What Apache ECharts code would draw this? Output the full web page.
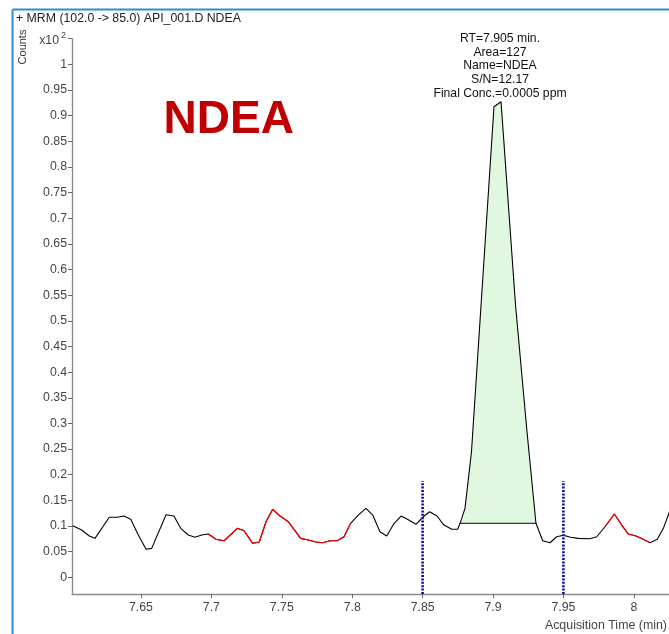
<!DOCTYPE html>
<html>
<head>
<meta charset="utf-8">
<script src="https://cdn.jsdelivr.net/npm/echarts@6/dist/echarts.min.js"></script>
<style>
html,body{margin:0;padding:0;background:#fff;}
#chart{width:669px;height:634px;}
</style>
</head>
<body>
<div id="chart"></div>
<script>
// Acquisition time (min) and counts (x10^2)
var times = [7.6015,7.6079,7.6133,7.6173,7.6275,7.6332,7.6379,7.6427,7.6481,7.6536,
  7.6576,7.6678,7.6734,7.6782,7.6836,7.6884,7.6931,7.6978,7.7033,7.7090,
  7.7184,7.7232,7.7293,7.7340,7.7388,7.7435,7.7487,7.7546,7.7587,7.7634,
  7.7688,7.7743,7.7791,7.7842,7.7894,7.7942,7.7989,7.8043,7.8098,7.8146,
  7.8197,7.8245,7.8297,7.8347,7.8402,7.8453,7.8505,7.8550,7.8602,7.8652,
  7.8707,7.8749,7.8766,7.8801,7.8847,7.9007,7.9057,7.9160,7.9239,7.9305,
  7.9353,7.9405,7.9452,7.9499,7.9552,7.9606,7.9689,7.9737,7.9795,7.9862,
  7.9914,7.9961,8.0016,8.0067,8.0115,8.0167,8.0210,8.0245,8.0293];
var counts = [0.1006,0.0922,0.0805,0.0760,0.1170,0.1170,0.1195,0.1131,0.0825,0.0546,
  0.0565,0.1220,0.1195,0.0955,0.0825,0.0780,0.0825,0.0844,0.0741,0.0713,
  0.0955,0.0908,0.0663,0.0688,0.1084,0.1326,0.1195,0.1084,0.0936,0.0760,
  0.0727,0.0688,0.0674,0.0713,0.0713,0.0791,0.1053,0.1214,0.1345,0.1214,
  0.0889,0.0805,0.1049,0.1195,0.1117,0.1033,0.1181,0.1279,0.1195,0.1019,
  0.0936,0.0936,0.1053,0.1345,0.2443,0.9173,0.9271,0.5308,0.2910,0.1053,
  0.0713,0.0674,0.0791,0.0819,0.0780,0.0760,0.0752,0.0791,0.0986,0.1234,
  0.1019,0.0844,0.0805,0.0741,0.0674,0.0741,0.0955,0.1214,0.1604];
// noise regions (drawn red)
var redRanges = [[7.6978, 7.7989], [7.9795, 8.0115]];
// integrated peak
var peakStart = 7.8766, peakEnd = 7.9305, peakBaseline = 0.1053;
// integration markers
var markerTimes = [7.85, 7.95];
var markerTop = 0.188;
// ticks
var xTicks = [7.65, 7.7, 7.75, 7.8, 7.85, 7.9, 7.95, 8];
var yTicks = [0,0.05,0.1,0.15,0.2,0.25,0.3,0.35,0.4,0.45,0.5,0.55,0.6,0.65,0.7,0.75,0.8,0.85,0.9,0.95,1,1.05];
var titleText = '+ MRM (102.0 -> 85.0) API_001.D NDEA';
var compoundName = 'NDEA';
var annotationLines = ['RT=7.905 min.', 'Area=127', 'Name=NDEA', 'S/N=12.17', 'Final Conc.=0.0005 ppm'];
var xAxisTitle = 'Acquisition Time (min)';
var yAxisTitle = 'Counts';

var FONT = 'Liberation Sans, Arial, sans-serif';
var YMIN = -0.0325, YMAX = 1.05, XMIN = 7.601, XMAX = 8.025;

var trace = times.map(function(t, i){ return [t, counts[i]]; });
var redSeries = redRanges.map(function(r){
  return {
    type: 'line', data: trace.filter(function(p){ return p[0] >= r[0] - 1e-6 && p[0] <= r[1] + 1e-6; }),
    showSymbol: false, symbol: 'none', lineStyle: {color: '#ff0000', width: 1.2}, z: 4, animation: false, silent: true
  };
});
var peakPts = trace.filter(function(p){ return p[0] >= peakStart - 1e-6 && p[0] <= peakEnd + 1e-6; });

var markerSeries = markerTimes.map(function(t){
  return {
    type: 'line', data: [[t, YMIN], [t, markerTop]], showSymbol: false, symbol: 'none',
    lineStyle: {color: '#0a0a90', width: 2.6, type: [2, 1.4]}, z: 5, animation: false, silent: true
  };
});

var graphics = [
  {type: 'line', shape: {x1: 12.5, y1: 9.5, x2: 669, y2: 9.5}, style: {stroke: '#2a8bd6', lineWidth: 2}},
  {type: 'line', shape: {x1: 12.5, y1: 9.5, x2: 12.5, y2: 634}, style: {stroke: '#2a8bd6', lineWidth: 2}},
  {type: 'text', left: 16, top: 12.5, style: {text: titleText, font: '12.3px ' + FONT, fill: '#222'}},
  {type: 'text', x: 22.5, y: 47, rotation: Math.PI / 2, style: {text: yAxisTitle, font: '11px ' + FONT, fill: '#333', align: 'center', verticalAlign: 'middle'}},
  {type: 'text', x: 59, y: 40.5, style: {text: 'x10', font: '12.3px ' + FONT, fill: '#444', align: 'right', verticalAlign: 'middle'}},
  {type: 'text', x: 61, y: 36, style: {text: '2', font: '9px ' + FONT, fill: '#444', align: 'left', verticalAlign: 'middle'}},
  {type: 'text', x: 228.7, y: 120, style: {text: compoundName, font: 'bold 46px ' + FONT, fill: '#c00000', align: 'center', verticalAlign: 'middle'}},
  {type: 'text', x: 667, y: 625.5, style: {text: xAxisTitle, font: '12.4px ' + FONT, fill: '#444', align: 'right', verticalAlign: 'middle'}}
];
annotationLines.forEach(function(s, i){
  graphics.push({type: 'text', x: 500, y: 38.5 + i * 13.7, style: {text: s, font: '12.2px ' + FONT, fill: '#111', align: 'center', verticalAlign: 'middle'}});
});

var chart = echarts.init(document.getElementById('chart'), null, {renderer: 'canvas'});
chart.setOption({
  animation: false,
  backgroundColor: '#fff',
  grid: {left: 72, right: 0, top: 38.7, bottom: 40, containLabel: false},
  xAxis: {
    type: 'value', min: XMIN, max: XMAX,
    axisLine: {show: true, onZero: false, lineStyle: {color: '#8a8a8a', width: 1.3}},
    axisTick: {show: true, length: 4, customValues: xTicks, lineStyle: {color: '#666'}},
    axisLabel: {show: true, customValues: xTicks, margin: 8, color: '#444', fontFamily: FONT, fontSize: 12.3,
      formatter: function(v){ return String(+v.toFixed(2)); }},
    splitLine: {show: false}
  },
  yAxis: {
    type: 'value', min: YMIN, max: YMAX,
    axisLine: {show: true, onZero: false, lineStyle: {color: '#8a8a8a', width: 1.3}},
    axisTick: {show: true, length: 4, customValues: yTicks, lineStyle: {color: '#666'}},
    axisLabel: {show: true, customValues: yTicks, margin: 5, color: '#444', fontFamily: FONT, fontSize: 12.3,
      formatter: function(v){ return v > 1.02 ? '' : String(+v.toFixed(2)); }},
    splitLine: {show: false}
  },
  graphic: graphics,
  series: [
    {
      type: 'custom', z: 1, animation: false, silent: true,
      data: [[peakStart, peakBaseline]],
      renderItem: function(params, api){
        var pts = peakPts.map(function(p){ return api.coord(p); });
        pts.push(api.coord([peakEnd, peakBaseline]));
        pts.push(api.coord([peakStart, peakBaseline]));
        return {type: 'polygon', shape: {points: pts}, style: {fill: '#e0f8e0', stroke: null}};
      }
    },
    {
      type: 'line', data: [[peakStart, peakBaseline], [peakEnd, peakBaseline]], showSymbol: false, symbol: 'none',
      lineStyle: {color: '#333', width: 1.2}, z: 2, animation: false, silent: true
    },
    {
      type: 'line', data: trace, showSymbol: false, symbol: 'none',
      lineStyle: {color: '#000', width: 1.1}, z: 3, animation: false, silent: true
    }
  ].concat(redSeries).concat(markerSeries)
});
</script>
</body>
</html>
